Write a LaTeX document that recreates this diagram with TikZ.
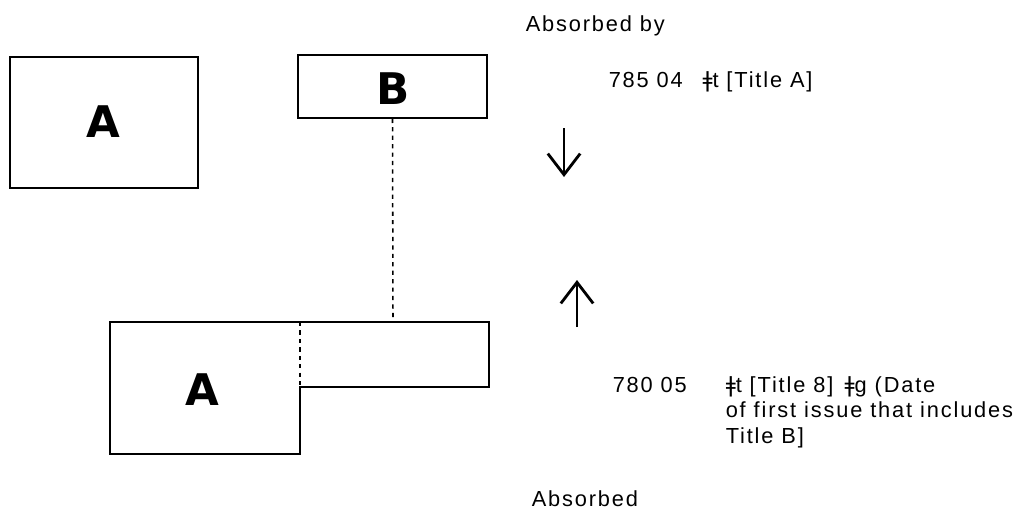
\documentclass[tikz,border=0pt]{standalone}
\usepackage{fontspec}
\setmainfont{Liberation Sans}[LetterSpace=8.5]
\newfontfamily\markfont{DejaVu Sans}
\newfontfamily\heavyfont{DejaVu Sans}
\usetikzlibrary{arrows.meta}
\newcommand{\dlm}{{\markfont ǂ}}

\begin{document}
\begin{tikzpicture}[x=0.025cm,y=-0.025cm,line width=1.1pt,
    font=\fontsize{15.5}{18}\selectfont,
    issue/.style={draw,inner sep=0pt},
    letter/.style={anchor=base,inner sep=0pt,font=\fontsize{31}{31}\selectfont\heavyfont\bfseries},
    note/.style={anchor=base west,inner sep=0pt,align=left},
    flow/.style={line width=2pt,-{Straight Barb[length=15pt,width=23pt]}}]
  \useasboundingbox (0,0) rectangle (1025,512);
  % the two serials before the change
  \node[issue,minimum width=4.7cm,minimum height=3.275cm] (boxA) at (104,122.5) {};
  \node[letter] (labA) at (103,137) {A};
  \node[issue,minimum width=4.725cm,minimum height=1.575cm] (boxB) at (392.5,86.5) {};
  \node[letter] (labB) at (393,105) {B};
  % A after it has taken in B
  \draw (110,322) -- (489,322) -- (489,387) -- (300,387) -- (300,454) -- (110,454) -- cycle;
  \draw[dashed] (300,322) -- (300,387);
  \node[letter] (labAB) at (202,405) {A};
  \coordinate (join) at (393,320);
  \draw[dashed] (boxB.south) -- (join);
  % linking fields
  \node[note] (byhead) at (525,32) {Absorbed by};
  \node[note] (f785) at (608,88) {785 04\hspace{14pt}\dlm t [Title A]};
  \coordinate (dtop) at (564,128);
  \coordinate (dend) at (564,177);
  \draw[flow] (dtop) -- (dend);
  \coordinate (ubot) at (577,327);
  \coordinate (uend) at (577,280);
  \draw[flow] (ubot) -- (uend);
  \node[note] (f780) at (612,392) {780 05};
  % last line sits on the base anchor
  \node[note] (f780txt) at (725,443) {\dlm t [Title 8]\hspace{8pt}\dlm g (Date\\of first issue that includes\\Title B]};
  \node[note] (abshead) at (531,506) {Absorbed};
\end{tikzpicture}
\end{document}
